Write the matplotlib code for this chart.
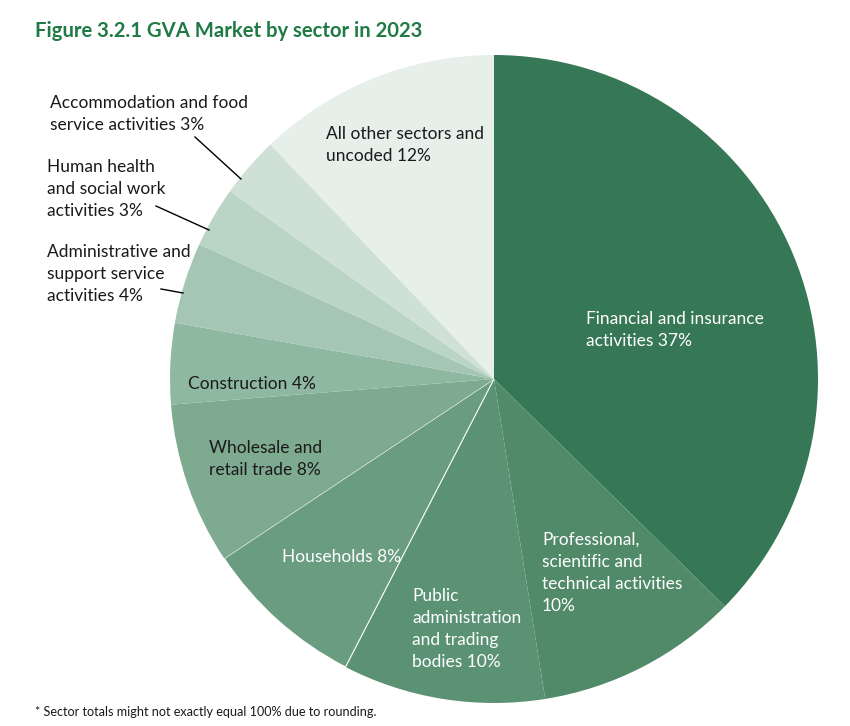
import matplotlib.pyplot as plt

# Sectors, clockwise from 12 o'clock
sectors = [
    "Financial and insurance\nactivities 37%",
    "Professional,\nscientific and\ntechnical activities\n10%",
    "Public\nadministration\nand trading\nbodies 10%",
    "Households 8%",
    "Wholesale and\nretail trade 8%",
    "Construction 4%",
    "Administrative and\nsupport service\nactivities 4%",
    "Human health\nand social work\nactivities 3%",
    "Accommodation and food\nservice activities 3%",
    "All other sectors and\nuncoded 12%",
]
shares = [37, 10, 10, 8, 8, 4, 4, 3, 3, 12]

colors = ["#367855", "#508a69", "#5b9274", "#6a9c80", "#7eaa90",
          "#8fb8a0", "#a5c6b4", "#bad4c6", "#cfe0d6", "#e6efea"]
text_colors = ["white", "white", "white", "white", "#1a1a1a",
               "#1a1a1a", "#1a1a1a", "#1a1a1a", "#1a1a1a", "#1a1a1a"]

# label anchor (left, centre of first line) in pixel coords of the picture
label_pos = [(586, 318), (542, 539), (412, 595), (282, 556), (209, 447),
             (188, 383), (47, 251), (47, 166), (50, 102), (326, 133)]
# leader lines for the small outside labels: (x0, y0, x1, y1)
leaders = {6: (161, 289, 183, 293), 7: (156, 206, 209, 230), 8: (195, 137, 241, 179)}

W, H = 850, 726
plt.rcParams["font.family"] = ["Lato", "DejaVu Sans"]

fig = plt.figure(figsize=(W / 100, H / 100), dpi=100)
ax = fig.add_axes([0, 0, 1, 1])

wedges, _ = ax.pie(shares, colors=colors, startangle=90, counterclock=False,
                   center=(494, H - 379), radius=324, frame=True,
                   wedgeprops=dict(linewidth=0))
ax.set_xlim(0, W)
ax.set_ylim(0, H)
ax.set_aspect("equal")
ax.axis("off")

# thin white divider between households and public administration
wedges[3].set_edgecolor("white")
wedges[3].set_linewidth(0.8)

for i, txt in enumerate(sectors):
    x, y = label_pos[i]
    ax.text(x, H - y + 7, txt, ha="left", va="top", fontsize=12.5,
            color=text_colors[i], linespacing=1.45)

for i, (x0, y0, x1, y1) in leaders.items():
    ax.plot([x0, x1], [H - y0, H - y1], color="black", linewidth=1)

fig.text(35 / W, 1 - 31 / H, "Figure 3.2.1 GVA Market by sector in 2023",
         ha="left", va="center", fontsize=14.6, fontweight="bold", color="#1f7a45")
fig.text(35 / W, 1 - 712 / H,
         "* Sector totals might not exactly equal 100% due to rounding.",
         ha="left", va="center", fontsize=9.1, color="#1a1a1a")

fig.savefig("out.png", dpi=100)
